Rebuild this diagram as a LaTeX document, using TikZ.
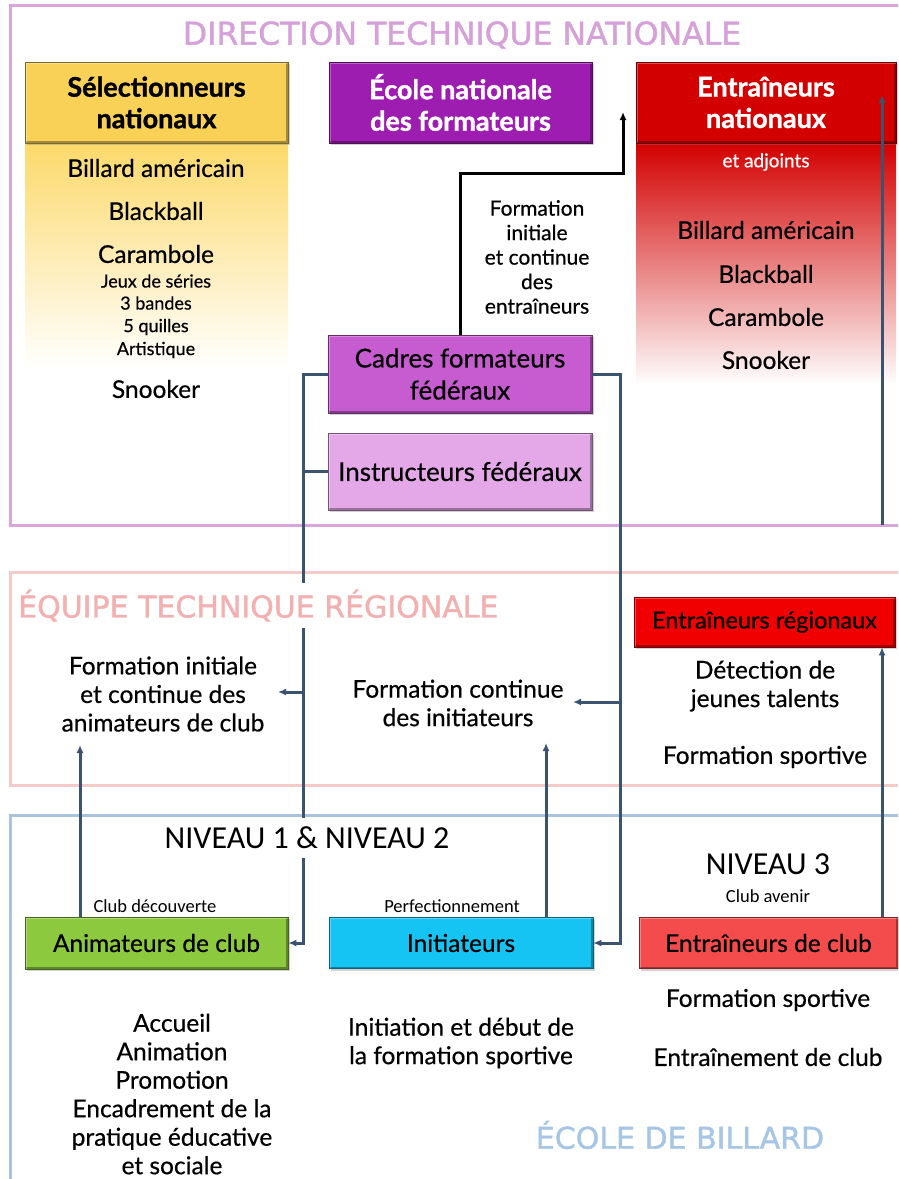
\documentclass[tikz,border=0pt]{standalone}
\usepackage{fontspec}
\setmainfont{Lato}[FakeBold=0.5]
\newfontfamily\hvyfont[FakeBold=1.2]{Lato}
\newfontfamily\titlefont[FakeBold=1.3]{DejaVu Sans}
\newfontfamily\calfont{Carlito}
\usetikzlibrary{arrows.meta,shadows}
\definecolor{dtnc}{HTML}{D8A6DC}
\definecolor{etrc}{HTML}{F7CACA}
\definecolor{ecbc}{HTML}{A9C2DE}
\definecolor{dtnt}{HTML}{D6A0D9}
\definecolor{etrt}{HTML}{F3B0B0}
\definecolor{ecbt}{HTML}{A7C6E6}
\definecolor{connc}{HTML}{3A5371}
\definecolor{gold}{HTML}{FAD157}
\definecolor{goldl}{HTML}{FCD96A}
\definecolor{purp}{HTML}{9E1DB1}
\definecolor{darkred}{HTML}{D30000}
\definecolor{orchid}{HTML}{C75CD1}
\definecolor{lorchid}{HTML}{E4A8E9}
\definecolor{brred}{HTML}{F00000}
\definecolor{grn}{HTML}{8DC93E}
\definecolor{cyan2}{HTML}{16C4F3}
\definecolor{salmon}{HTML}{F44C4C}
\tikzset{
  bevel/.style={path picture={
    \draw[line width=4pt, #1!55!black, opacity=0.75]
      (path picture bounding box.south west) -- (path picture bounding box.south east)
      -- (path picture bounding box.north east);
    \draw[line width=3pt, white, opacity=0.3]
      (path picture bounding box.south west) -- (path picture bounding box.north west)
      -- (path picture bounding box.north east);}},
  box/.style={draw=#1!50!black, line width=0.6pt, fill=#1, bevel=#1,
    inner sep=0pt, align=center,
    drop shadow={shadow xshift=1.5pt, shadow yshift=-2pt, opacity=0.35}},
  frame/.style={line width=3pt},
  conn/.style={draw=connc, line width=3pt},
  blk/.style={draw=black, line width=3pt},
  arr/.style={-{Latex[length=8pt,width=7pt]}},
  body/.style={font=\fontsize{24.5}{28.5}\selectfont, align=center, inner sep=0pt},
  small/.style={font=\fontsize{18}{22}\selectfont, align=center, inner sep=0pt},
  hdr/.style={font=\hvyfont\fontsize{27}{31.5}\selectfont\bfseries},
  ttl/.style={font=\titlefont\fontsize{30}{34}\selectfont, inner sep=0pt},
  cal/.style={font=\calfont\fontsize{18.5}{22}\selectfont, inner sep=0pt},
  calbig/.style={font=\calfont\fontsize{32}{34}\selectfont, inner sep=0pt}
}
\begin{document}
\begin{tikzpicture}[x=1pt,y=-1pt]
\useasboundingbox (0,0) rectangle (898,1179);
\clip (0,0) rectangle (898,1179);
\fill[white] (0,0) rectangle (898,1179);
% frames
\draw[frame, dtnc] (10,5) rectangle (910,525);
\draw[frame, etrc] (10,572) rectangle (910,785);
\draw[frame, ecbc] (10,815) rectangle (910,1200);
% gradients
\shade[top color=goldl, bottom color=white] (25,143) rectangle (288,368);
\shade[top color=darkred, middle color=red!50!white, bottom color=white] (636,143) rectangle (896,385);
% titles of frames
\node[ttl, text=dtnt, font=\titlefont\fontsize{31.5}{34}\selectfont] (tdtn) at (462,35) {DIRECTION TECHNIQUE NATIONALE};
% boxes (named, used by connectors)
\node[box=gold, minimum width=263, minimum height=81, hdr] (sel) at (156.5,102.5) {Sélectionneurs\\nationaux};
\node[box=purp, minimum width=263, minimum height=81, hdr, text=white] (ecole) at (460.5,102.5) {École nationale\\des formateurs};
\node[box=darkred, minimum width=260, minimum height=81, hdr, text=white] (entnat) at (766,102.5) {Entraîneurs\\nationaux};
% coordinates
\coordinate (lbend) at (303,374);
\coordinate (lfoot) at (303,943);
\coordinate (lbr) at (303,692);
\coordinate (fiatip) at (278,692);
\coordinate (rbend) at (620,374);
\coordinate (rfoot) at (620,943);
\coordinate (rbr) at (620,702);
\coordinate (fcitip) at (573,702);
\coordinate (aup) at (80,745);
\coordinate (iup) at (546,743);
\coordinate (rcol) at (882,647);
\coordinate (dtnb) at (882,525);
\coordinate (enntip) at (882,95);
\coordinate (bk1) at (460,173);
\coordinate (bk2) at (623,173);
\coordinate (bk3) at (623,112);
% lower boxes
\node[box=orchid, minimum width=264, minimum height=78, font=\fontsize{26}{32}\selectfont] (cadres) at (460,374) {Cadres formateurs\\fédéraux};
\node[box=lorchid, minimum width=264, minimum height=77, font=\fontsize{26}{32}\selectfont] (instr) at (460,471.5) {Instructeurs fédéraux};
\node[box=brred, minimum width=261, minimum height=50, font=\fontsize{23.5}{28}\selectfont] (entreg) at (764.5,622) {Entraîneurs régionaux};
\node[box=grn, minimum width=263, minimum height=52, font=\fontsize{24.5}{28}\selectfont] (anim) at (156.5,943) {Animateurs de club};
\node[box=cyan2, minimum width=264, minimum height=51, font=\fontsize{24.5}{28}\selectfont] (init) at (461,943) {Initiateurs};
\node[box=salmon, minimum width=259, minimum height=51, font=\fontsize{24.5}{28}\selectfont] (entclub) at (768.5,943) {Entraîneurs de club};
% connectors
\draw[conn, arr] (cadres.west) -- (lbend) -- (lfoot) -- (anim.east);
\draw[conn] (instr.west) -- (instr.west -| lbend);
\draw[conn, arr] (lbr) -- (fiatip);
\draw[conn, arr] (cadres.east) -- (rbend) -- (rfoot) -- (init.east);
\draw[conn, arr] (rbr) -- (fcitip);
\draw[conn, arr] (aup |- anim.north) -- (aup);
\draw[conn, arr] (iup |- init.north) -- (iup);
\draw[conn, arr] (rcol |- entclub.north) -- (rcol |- entreg.south);
\draw[conn, arr] (dtnb) -- (enntip);
\draw[blk, arr] (cadres.north) -- (bk1) -- (bk2) -- (bk3);
% titles covering lines
\node[ttl, text=etrt, fill=white, anchor=west, minimum height=45, inner xsep=0pt] (tetr) at (18,605.5) {ÉQUIPE TECHNIQUE RÉGIONALE};
\node[calbig, fill=white, minimum height=40, inner xsep=4pt] (niv12) at (307,837.5) {NIVEAU 1 \& NIVEAU 2};
\node[ttl, text=ecbt] (tecb) at (680,1135) {ÉCOLE DE BILLARD};
% selectionneurs list
\node[body] (s1) at (156,168) {Billard américain};
\node[body] (s2) at (156,211) {Blackball};
\node[body] (s3) at (156,254) {Carambole};
\node[small] (s4) at (156,281) {Jeux de séries};
\node[small] (s5) at (156,303) {3 bandes};
\node[small] (s6) at (156,327) {5 quilles};
\node[small] (s7) at (156,350) {Artistique};
\node[body] (s8) at (156,389) {Snooker};
% entraineurs nationaux list
\node[font=\fontsize{19}{22}\selectfont, text=white, inner sep=0pt] (e0) at (766,162) {et adjoints};
\node[body] (e1) at (766,230) {Billard américain};
\node[body] (e2) at (766,274) {Blackball};
\node[body] (e3) at (766,317) {Carambole};
\node[body] (e4) at (766,360) {Snooker};
% formation des entraineurs
\node[font=\fontsize{21}{24.5}\selectfont, align=center, inner sep=0pt] (fent) at (537,257) {Formation\\initiale\\et continue\\des\\entraîneurs};
% ETR texts
\node[body] (fia) at (163,694) {Formation initiale\\et continue des\\animateurs de club};
\node[body] (fci) at (458,703) {Formation continue\\des initiateurs};
\node[body] (det) at (765,686) {Détection de\\jeunes talents};
\node[body] (fsp) at (765,757) {Formation sportive};
% ECB texts
\node[calbig] (niv3) at (768,864) {NIVEAU 3};
\node[cal] (cav) at (768,896) {Club avenir};
\node[cal] (cdec) at (155,906) {Club découverte};
\node[cal] (perf) at (452,906) {Perfectionnement};
\node[body] (acc) at (172,1094) {Accueil\\Animation\\Promotion\\Encadrement de la\\pratique éducative\\et sociale};
\node[body] (ini) at (461,1043) {Initiation et début de\\la formation sportive};
\node[body] (fsc) at (768,1000) {Formation sportive};
\node[body] (enc) at (768,1057) {Entraînement de club};
\end{tikzpicture}
\end{document}
